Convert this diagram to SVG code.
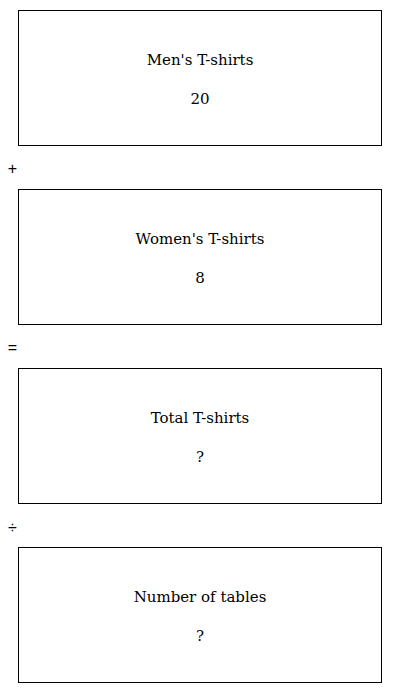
<svg xmlns="http://www.w3.org/2000/svg" width="400" height="693" viewBox="0 0 400 693">
<style>
.box{fill:#fff;stroke:#000;stroke-width:1}
.t{font-family:"DejaVu Serif","Liberation Serif",serif;font-size:15px;text-anchor:middle;fill:#000}
.op{font-family:"Liberation Sans","DejaVu Sans",sans-serif;font-size:16px;text-anchor:middle;fill:#000}
</style>
<rect width="400" height="693" fill="#fff"/>
<g id="node-men">
<rect class="box" x="18.5" y="10.5" width="363" height="135"/>
<text class="t" x="200" y="65">Men's T-shirts</text>
<text class="t" x="200" y="104">20</text>
</g>
<g id="op-plus"><text class="op" x="12.5" y="174">+</text></g>
<g id="node-women">
<rect class="box" x="18.5" y="189.5" width="363" height="135"/>
<text class="t" x="200" y="244">Women's T-shirts</text>
<text class="t" x="200" y="283">8</text>
</g>
<g id="op-eq"><text class="op" x="12.5" y="353">=</text></g>
<g id="node-total">
<rect class="box" x="18.5" y="368.5" width="363" height="135"/>
<text class="t" x="200" y="423">Total T-shirts</text>
<text class="t" x="200" y="462">?</text>
</g>
<g id="op-div"><text class="op" x="12.5" y="532.5">÷</text></g>
<g id="node-tables">
<rect class="box" x="18.5" y="547.5" width="363" height="135"/>
<text class="t" x="200" y="602">Number of tables</text>
<text class="t" x="200" y="641">?</text>
</g>
<g id="connectors"></g>
</svg>
